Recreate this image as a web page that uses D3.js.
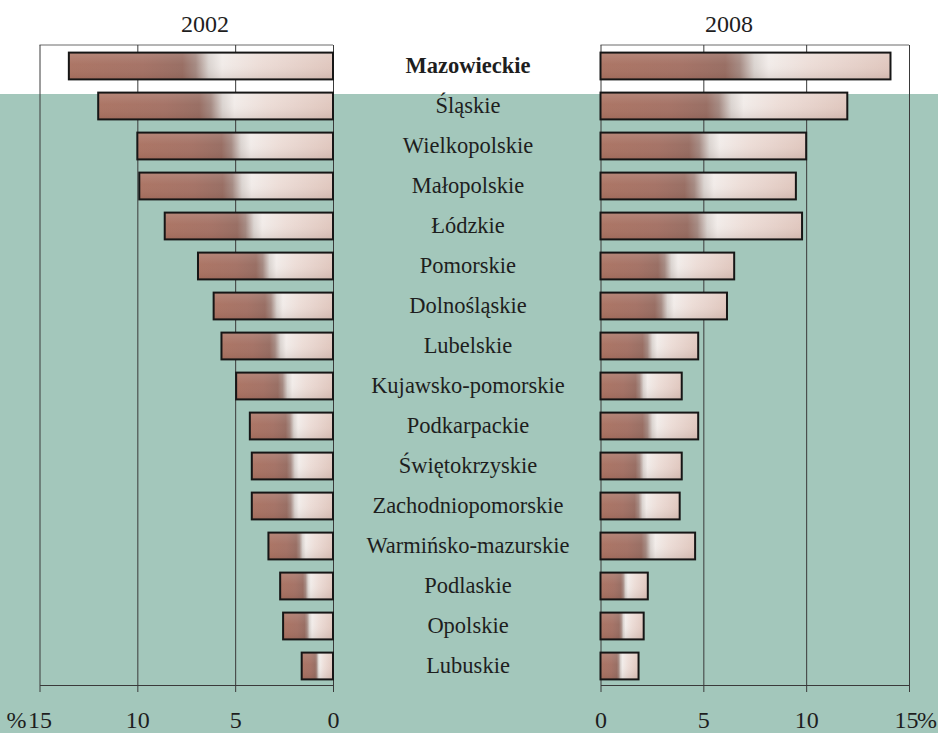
<!DOCTYPE html>
<html>
<head>
<meta charset="utf-8">
<script src="https://cdn.jsdelivr.net/npm/d3@7"></script>
<style>
  html, body { margin: 0; padding: 0; background: #ffffff; }
  svg { display: block; }
  text { font-family: "Liberation Serif", "Times New Roman", serif; fill: #1e1e1e; }
</style>
</head>
<body>
<svg id="chart" width="938" height="733"></svg>
<script>
// Regions (voivodeships), ordered as drawn from top to bottom
const regions = [
  "Mazowieckie", "Śląskie", "Wielkopolskie", "Małopolskie", "Łódzkie",
  "Pomorskie", "Dolnośląskie", "Lubelskie", "Kujawsko-pomorskie", "Podkarpackie",
  "Świętokrzyskie", "Zachodniopomorskie", "Warmińsko-mazurskie", "Podlaskie",
  "Opolskie", "Lubuskie"
];
// Share of each region, %
const share2002 = [13.5, 12.0, 10.0, 9.9, 8.6, 6.9, 6.1, 5.7, 4.95, 4.25, 4.15, 4.15, 3.3, 2.7, 2.55, 1.6];
const share2008 = [14.1, 12.0, 10.0, 9.5, 9.8, 6.5, 6.15, 4.75, 3.95, 4.75, 3.95, 3.85, 4.6, 2.3, 2.1, 1.85];
const yearLabels = ["2002", "2008"];
const tickValues = [0, 5, 10, 15];

const svg = d3.select("#chart");
const W = 938, H = 733;

// background: white header strip, green-grey body
svg.append("rect").attr("x", 0).attr("y", 0).attr("width", W).attr("height", H).attr("fill", "#ffffff");
svg.append("rect").attr("x", 0).attr("y", 94).attr("width", W).attr("height", H - 94).attr("fill", "#a3c7bb");

// bar fill: dark brown on the left, a bright sheen in the middle, pale pink on the right
const defs = svg.append("defs");
const grad = defs.append("linearGradient").attr("id", "barFill")
  .attr("x1", 0).attr("y1", 0).attr("x2", 1).attr("y2", 0);
[
  [0, "#a9705f"], [0.28, "#a26e61"], [0.43, "#95695e"], [0.48, "#a2867e"],
  [0.53, "#d9d2ce"], [0.58, "#f1ebe8"], [0.72, "#ecdcd6"], [1, "#dfc5bc"]
].forEach(([o, c]) => grad.append("stop").attr("offset", o).attr("stop-color", c));
const shade = defs.append("linearGradient").attr("id", "barShade")
  .attr("x1", 0).attr("y1", 0).attr("x2", 0).attr("y2", 1);
[
  [0, "#ffffff", 0.16], [0.45, "#ffffff", 0.04], [1, "#5a3a30", 0.12]
].forEach(([o, c, a]) => shade.append("stop").attr("offset", o).attr("stop-color", c).attr("stop-opacity", a));

const plotTop = 45, plotBottom = 685;
const y = d3.scaleBand().domain(regions).range([plotTop + 1, plotBottom + 1])
  .paddingInner(0.33).paddingOuter(0.165);

const xLeft = d3.scaleLinear().domain([0, 15]).range([333, 39.5]);
const xRight = d3.scaleLinear().domain([0, 15]).range([600.5, 909]);

function panel(x, values, title, titleX, pctSide) {
  const g = svg.append("g");
  const [r0, r1] = x.range();
  const xmin = Math.min(r0, r1), xmax = Math.max(r0, r1);

  // frame top line
  g.append("line").attr("x1", xmin).attr("x2", xmax).attr("y1", plotTop).attr("y2", plotTop)
    .attr("stroke", "#6a6a6a").attr("stroke-width", 1);

  // vertical grid lines
  const grid = g.append("g").attr("transform", `translate(0,${plotBottom})`)
    .call(d3.axisBottom(x).tickValues(tickValues).tickSize(-(plotBottom - plotTop)).tickFormat(""));
  grid.select(".domain").remove();
  grid.selectAll(".tick line").attr("stroke", "#3a3a3a").attr("stroke-width", 1);

  // bars
  const rows = g.selectAll("g.bar").data(regions).join("g").attr("class", "bar");
  rows.append("rect")
    .attr("x", (d, i) => Math.min(x(0), x(values[i])))
    .attr("y", d => y(d))
    .attr("width", (d, i) => Math.abs(x(values[i]) - x(0)))
    .attr("height", y.bandwidth())
    .attr("fill", "url(#barFill)");
  rows.append("rect")
    .attr("x", (d, i) => Math.min(x(0), x(values[i])))
    .attr("y", d => y(d))
    .attr("width", (d, i) => Math.abs(x(values[i]) - x(0)))
    .attr("height", y.bandwidth())
    .attr("fill", "url(#barShade)")
    .attr("stroke", "#161616").attr("stroke-width", 2);

  // bottom axis
  const ax = g.append("g").attr("transform", `translate(0,${plotBottom})`)
    .call(d3.axisBottom(x).tickValues(tickValues).tickSize(7).tickSizeOuter(0).tickFormat(d3.format("d")));
  ax.select(".domain").attr("stroke", "#3a3a3a").attr("stroke-width", 1);
  ax.selectAll(".tick line").attr("stroke", "#3a3a3a");
  ax.selectAll(".tick text")
    .attr("y", 43).attr("dy", 0)
    .attr("x", d => (d === 15 && pctSide > 0) ? -3 : 0)
    .style("font-family", "'Liberation Serif', 'Times New Roman', serif")
    .style("font-size", "24px").attr("fill", "#1e1e1e");

  // percent sign beside the 15 tick
  const p15 = x(15);
  g.append("text")
    .attr("x", pctSide < 0 ? p15 - 13 : p15 + 8)
    .attr("y", plotBottom + 43)
    .attr("text-anchor", pctSide < 0 ? "end" : "start")
    .style("font-size", "24px")
    .text("%");

  // year title
  g.append("text").attr("x", titleX).attr("y", 32).attr("text-anchor", "middle")
    .style("font-size", "24px").text(title);
}

panel(xLeft, share2002, yearLabels[0], 205, -1);
panel(xRight, share2008, yearLabels[1], 729, 1);

// region names between the two panels
svg.append("g").selectAll("text").data(regions).join("text")
  .attr("x", 468)
  .attr("y", d => y(d) + y.bandwidth() / 2)
  .attr("dy", "0.33em")
  .attr("text-anchor", "middle")
  .style("font-size", "22.5px")
  .style("font-weight", (d, i) => i === 0 ? "bold" : "normal")
  .text(d => d);
</script>
</body>
</html>
